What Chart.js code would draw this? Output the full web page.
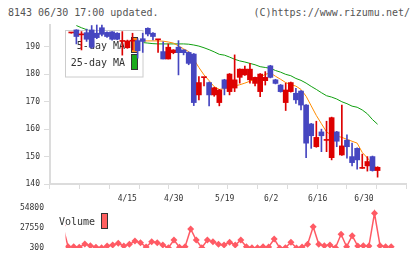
<!DOCTYPE html>
<html>
<head>
<meta charset="utf-8">
<script src="https://cdn.jsdelivr.net/npm/chart.js@4"></script>
<style>
  body { margin: 0; background: #fff; }
  #wrap { position: relative; width: 420px; height: 259px; font-family: "DejaVu Sans Mono", monospace; }
  #title, #copy { position: absolute; top: 7px; font-size: 10px; line-height: 12px; color: #555; }
  #title { left: 8px; }
  #copy { right: 10px; }
  .panel { position: absolute; left: 0; width: 420px; }
  #pricePanel { top: 0; height: 210px; }
  #volumePanel { top: 200px; height: 59px; }
</style>
</head>
<body>
<div id="wrap">
  <div id="title">8143 06/30 17:00 updated.</div>
  <div id="copy">(C)https://www.rizumu.net/</div>
  <div class="panel" id="pricePanel"><canvas id="price"></canvas></div>
  <div class="panel" id="volumePanel"><canvas id="volume"></canvas></div>
</div>
<script>
// trading days shown (2025)
const dates = ['4/2','4/3','4/4','4/7','4/8','4/9','4/10','4/11','4/14','4/15',
  '4/16','4/17','4/18','4/21','4/22','4/23','4/24','4/25','4/28','4/30',
  '5/1','5/2','5/7','5/8','5/9','5/12','5/13','5/14','5/15','5/16',
  '5/19','5/20','5/21','5/22','5/23','5/26','5/27','5/28','5/29','5/30',
  '6/2','6/3','6/4','6/5','6/6','6/9','6/10','6/11','6/12','6/13',
  '6/16','6/17','6/18','6/19','6/20','6/23','6/24','6/25','6/26','6/27','6/30'];
const dateTicks = ['4/15', '4/30', '5/19', '6/2', '6/16', '6/30'];
const priceTicks = [140, 150, 160, 170, 180, 190];
const volumeTicks = [300, 27550, 54800];

const open = [195.1,196.2,194.4,195.2,196.2,195.0,197.0,195.3,195.5,195.0,
  192.0,189.7,192.1,192.3,193.0,196.8,195.0,192.6,188.3,185.6,
  187.9,189.9,188.9,188.0,187.4,172.5,178.8,177.0,172.5,169.7,
  178.0,173.7,175.0,178.9,179.8,178.0,176.7,173.7,177.7,183.1,
  178.0,176.1,169.7,173.7,173.1,173.9,168.8,161.9,153.6,159.0,
  155.9,149.6,159.0,150.6,156.0,150.0,153.0,145.7,146.6,150.0,144.9];
const high = [195.3,196.3,195.6,196.5,197.8,198.0,198.0,195.5,195.6,195.2,
  195.6,192.5,195.0,193.0,195.0,197.0,195.2,192.8,191.9,191.1,
  189.0,192.3,189.0,188.2,187.6,179.2,178.9,177.2,175.3,174.5,
  178.2,180.3,187.1,182.0,183.0,184.0,179.0,180.3,181.0,183.3,
  178.2,176.3,176.8,177.2,174.9,174.1,169.0,162.1,162.9,160.0,
  162.9,164.4,159.2,168.8,157.9,154.9,153.2,150.9,150.0,150.2,146.3];
const low = [195.0,191.1,188.9,192.0,189.5,193.0,194.0,193.5,192.5,192.6,
  187.0,189.5,188.9,185.9,188.0,194.0,192.6,188.0,185.6,185.6,
  187.5,179.8,187.1,183.5,168.6,170.7,175.8,168.5,172.0,168.5,
  172.5,172.5,173.7,176.8,179.6,176.8,175.8,171.9,176.1,178.7,
  176.5,173.5,166.8,173.5,169.4,167.0,149.6,153.0,153.4,151.8,
  151.8,148.8,153.6,150.4,149.4,146.6,145.4,145.7,144.7,144.7,142.5];
const close = [195.2,193.8,194.5,192.8,189.9,193.4,194.6,193.8,192.8,192.8,
  192.3,192.2,192.2,188.6,192.0,194.7,193.8,192.7,185.6,189.9,
  188.9,187.9,187.9,184.0,169.7,177.0,178.9,172.5,175.1,174.3,
  174.9,180.1,178.0,181.9,181.9,181.9,178.9,180.1,178.9,178.9,
  176.7,173.7,174.3,177.0,170.7,168.8,154.9,157.6,157.0,157.6,
  156.0,164.2,155.6,153.9,153.6,147.8,148.8,145.8,148.2,144.9,146.1];

const ma5 = [null,189.5,190.5,192.0,193.0,193.5,194.0,194.5,194.5,194.0,
  193.5,193.0,192.7,192.3,192.2,192.2,192.2,192.2,192.1,191.8,
  191.4,190.4,189.3,188.3,185.5,182.5,179.8,177.7,175.5,174.5,
  174.8,175.3,175.8,176.2,176.8,177.5,178.3,179.0,180.0,180.5,
  179.3,178.2,177.0,176.3,175.7,174.5,172.0,168.5,165.0,162.0,
  159.0,157.8,157.5,157.0,156.3,155.6,154.9,151.5,149.5,147.5,145.3];
const ma25 = [null,197.8,197.0,196.3,195.6,195.0,194.4,193.9,193.4,193.0,
  192.6,192.3,192.0,191.8,191.6,191.4,191.2,191.1,191.1,191.1,
  191.1,191.1,191.1,191.0,190.7,190.3,189.7,189.0,188.2,187.3,
  187.0,186.3,185.5,184.9,184.5,184.0,183.5,182.8,182.5,182.2,
  181.4,180.8,180.0,179.5,178.5,177.8,176.8,175.6,174.5,173.3,
  172.2,171.7,171.0,170.0,169.3,168.4,168.0,167.0,165.6,163.5,161.8];

const volume = [20000,31000,2070,2070,1250,5750,3430,1250,500,3000,
  4390,6700,3000,5340,9840,7520,1660,8880,7520,4390,
  700,11200,1250,2070,26190,11200,700,11200,8880,5340,
  4390,8070,4390,11200,2070,700,700,2070,1660,12560,
  300,700,8070,300,1660,5340,29320,5340,3430,4390,
  700,18970,2070,17060,3000,3430,3000,47580,3430,2070,2070];

const UP = '#dd0000';
const DOWN = '#4646c0';
const candleColor = dates.map((d, i) => close[i] >= open[i] ? UP : DOWN);

const mono = '"DejaVu Sans Mono", monospace';
const tickFont = { family: mono, size: 8 };

// index axis range so both panels line up
const X_MAX = 62.66;
const X_MIN_PRICE = -1.26;
const X_MIN_VOL = 1.53;

const maLegend = {
  id: 'maLegend',
  beforeDatasetDraw(chart, args) {
    if (args.index !== 1) return;
    const ctx = chart.ctx;
    ctx.save();
    ctx.fillStyle = '#fff';
    ctx.strokeStyle = '#cccccc';
    ctx.lineWidth = 1;
    ctx.fillRect(65.5, 30.5, 77.5, 46.5);
    ctx.strokeRect(65.5, 30.5, 77.5, 46.5);
    ctx.font = '10px ' + mono;
    ctx.fillStyle = '#333';
    ctx.textAlign = 'right';
    ctx.textBaseline = 'middle';
    ctx.fillText('5-day MA', 125, 46);
    ctx.fillText('25-day MA', 125, 63);
    ctx.strokeStyle = '#333';
    ctx.fillStyle = '#ff8c1a';
    ctx.fillRect(131.5, 37.5, 6, 15);
    ctx.strokeRect(131.5, 37.5, 6, 15);
    ctx.fillStyle = '#1aaa1a';
    ctx.fillRect(131.5, 54.5, 6, 15);
    ctx.strokeRect(131.5, 54.5, 6, 15);
    ctx.restore();
  }
};

new Chart(document.getElementById('price'), {
  type: 'bar',
  data: {
    datasets: [
      {
        label: 'body',
        data: dates.map((d, i) => ({ x: i, y: [open[i], close[i]] })),
        backgroundColor: candleColor,
        barThickness: 5,
        minBarLength: 1,
        grouped: false,
        clip: false,
        order: 0
      },
      {
        label: 'wick',
        data: dates.map((d, i) => ({ x: i, y: [low[i], high[i]] })),
        backgroundColor: candleColor,
        barThickness: 1,
        grouped: false,
        clip: false,
        order: 1
      },
      {
        type: 'line',
        label: '5-day MA',
        data: ma5.map((v, i) => ({ x: i, y: v })),
        borderColor: '#ff8c00',
        borderWidth: 1,
        pointRadius: 0,
        order: 2
      },
      {
        type: 'line',
        label: '25-day MA',
        data: ma25.map((v, i) => ({ x: i, y: v })),
        borderColor: '#10a010',
        borderWidth: 1,
        pointRadius: 0,
        order: 3
      }
    ]
  },
  options: {
    responsive: true,
    maintainAspectRatio: false,
    animation: false,
    layout: { padding: { top: 25, right: 14, left: 0, bottom: 0 } },
    plugins: { legend: { display: false }, tooltip: { enabled: false } },
    scales: {
      x: {
        type: 'linear',
        min: X_MIN_PRICE,
        max: X_MAX,
        afterBuildTicks: (scale) => {
          const step = (scale.max - scale.min) / 11;
          scale.ticks = Array.from({ length: 12 }, (_, k) => ({ value: scale.min + k * step }));
        },
        afterFit: (scale) => { scale.height = 6; },
        ticks: { display: false },
        grid: { drawOnChartArea: false, drawTicks: true, tickLength: 5, color: '#dcdcdc' },
        border: { color: '#dcdcdc', width: 2 }
      },
      xd: {
        type: 'linear',
        position: 'bottom',
        min: X_MIN_PRICE,
        max: X_MAX,
        afterBuildTicks: (scale) => {
          scale.ticks = dateTicks.map(t => ({ value: dates.indexOf(t) }));
        },
        afterFit: (scale) => { scale.height = 20; },
        ticks: {
          autoSkip: false,
          maxRotation: 0,
          padding: 4,
          font: tickFont,
          color: '#333',
          callback: (v) => dates[v]
        },
        grid: { display: false, drawTicks: false },
        border: { display: false }
      },
      y: {
        min: 140,
        max: 198,
        afterBuildTicks: (scale) => {
          scale.ticks = priceTicks.map(v => ({ value: v }));
        },
        afterFit: (scale) => { scale.width = 50; },
        ticks: { font: tickFont, color: '#333', padding: 4, callback: (v) => String(v) },
        grid: { drawOnChartArea: false, drawTicks: true, tickLength: 6, color: '#dcdcdc' },
        border: { color: '#dcdcdc', width: 2 }
      }
    }
  },
  plugins: [maLegend]
});

const volLegend = {
  id: 'volLegend',
  afterDatasetsDraw(chart) {
    const ctx = chart.ctx;
    ctx.save();
    ctx.font = '10px ' + mono;
    ctx.fillStyle = '#333';
    ctx.textAlign = 'left';
    ctx.textBaseline = 'middle';
    ctx.fillText('Volume', 59, 22);
    ctx.fillStyle = '#ff6060';
    ctx.strokeStyle = '#333';
    ctx.fillRect(101.5, 13.5, 6, 15);
    ctx.strokeRect(101.5, 13.5, 6, 15);
    ctx.restore();
  }
};

new Chart(document.getElementById('volume'), {
  type: 'line',
  data: {
    datasets: [{
      label: 'Volume',
      data: volume.map((v, i) => ({ x: i, y: v })),
      borderColor: '#ff5a64',
      backgroundColor: '#ff5a64',
      borderWidth: 1.5,
      pointStyle: 'rectRot',
      pointRadius: 3.5,
      pointBorderWidth: 0
    }]
  },
  options: {
    responsive: true,
    maintainAspectRatio: false,
    animation: false,
    layout: { padding: { top: 8, right: 14, left: 0, bottom: 11 } },
    plugins: { legend: { display: false }, tooltip: { enabled: false } },
    scales: {
      x: { type: 'linear', min: X_MIN_VOL, max: X_MAX, display: false },
      y: {
        min: 300,
        max: 54800,
        afterBuildTicks: (scale) => {
          scale.ticks = volumeTicks.map(v => ({ value: v }));
        },
        afterFit: (scale) => {
          scale.width = 65.5;
          // tick padding is only meant to push labels left, not to shrink the plot
          scale.paddingTop = 0;
          scale.paddingBottom = 0;
        },
        ticks: { font: tickFont, color: '#333', padding: 21.5, callback: (v) => String(v) },
        grid: { display: false, drawTicks: false },
        border: { display: false }
      }
    }
  },
  plugins: [volLegend]
});
</script>
</body>
</html>
